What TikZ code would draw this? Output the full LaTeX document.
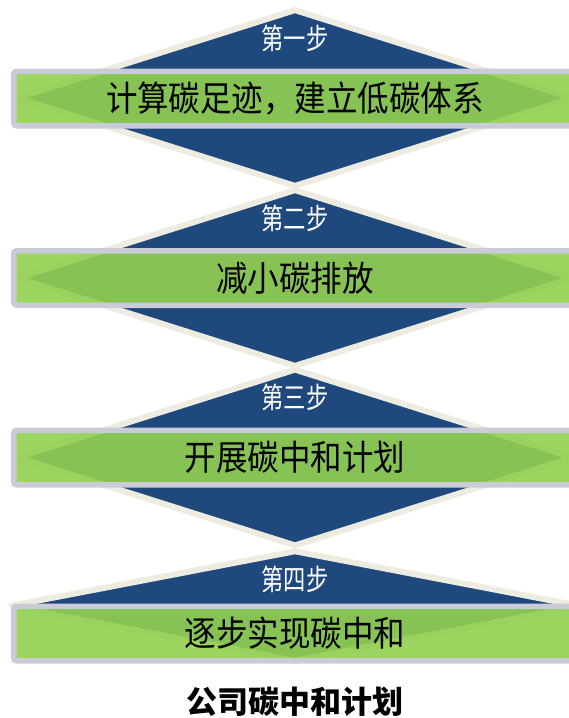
\documentclass[tikz,border=0pt]{standalone}
\usepackage{fontspec}
\usepackage{xcolor}
\usepackage{tikz}
\usetikzlibrary{shapes.geometric}

\newfontfamily\barfont[FakeStretch=0.9]{Noto Sans CJK SC}
\newfontfamily\labelfont[FakeStretch=0.77]{Noto Sans CJK SC}
\newfontfamily\titlefont{Noto Sans CJK SC}

\definecolor{stepblue}{HTML}{1F497D}
\definecolor{stepcream}{HTML}{EEECE1}
\definecolor{stepgreen}{HTML}{92D050}
\definecolor{bargray}{HTML}{C9CCD6}

\tikzset{
  stepdiamond/.style={diamond, draw=stepcream, fill=stepblue, line width=6pt,
    line join=bevel, inner sep=0pt},
  stepbar/.style={rectangle, draw=bargray, fill=stepgreen, fill opacity=0.9,
    text opacity=1, line width=5.5pt, rounded corners=3pt,
    minimum width=562.5pt, minimum height=54.5pt, inner sep=0pt,
    font=\barfont\fontsize{35pt}{40pt}\selectfont},
  steplabel/.style={text=white, inner sep=0pt,
    font=\labelfont\fontsize{29pt}{34pt}\selectfont}
}

\begin{document}
\begin{tikzpicture}[x=1pt, y=-1pt]
  \useasboundingbox (0,0) rectangle (569,718);
  \clip (0,0) rectangle (569,718);

  % 菱形
  \node[stepdiamond, minimum width=557.7pt, minimum height=178.3pt] (d1) at (295,98) {};
  \node[stepdiamond, minimum width=557.7pt, minimum height=178.3pt] (d2) at (295,278) {};
  \node[stepdiamond, minimum width=557.7pt, minimum height=178.3pt] (d3) at (295,457.5) {};
  \node[stepdiamond, minimum width=573pt, minimum height=112pt] (d4) at (295,606) {};

  % 横条
  \node[stepbar] (b1) at (295,98.5) {计算碳足迹，建立低碳体系};
  \node[stepbar] (b2) at (295,278) {减小碳排放};
  \node[stepbar] (b3) at (295,457.5) {开展碳中和计划};
  \node[stepbar] (b4) at (295,633.5) {逐步实现碳中和};

  % 步骤
  \node[steplabel] (s1) at (295,38) {第一步};
  \node[steplabel] (s2) at (295,218) {第二步};
  \node[steplabel] (s3) at (295,397.5) {第三步};
  \node[steplabel] (s4) at (295,579) {第四步};

  % 标题
  \node[font=\titlefont\bfseries\fontsize{31pt}{36pt}\selectfont] (title) at (295,702) {公司碳中和计划};
\end{tikzpicture}
\end{document}
